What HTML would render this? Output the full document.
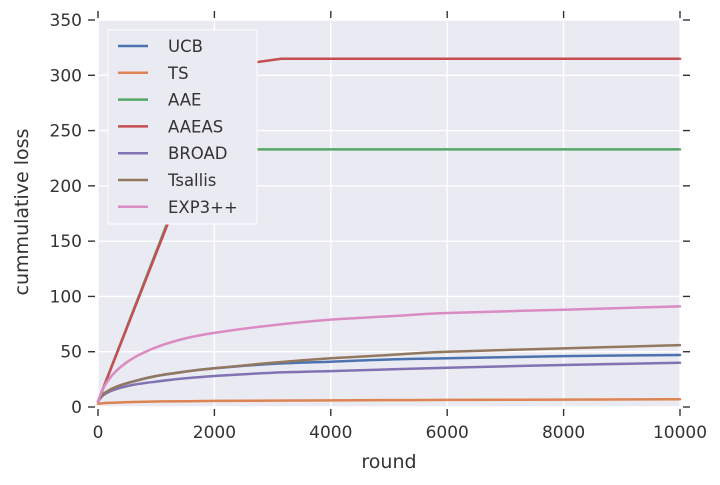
<!DOCTYPE html>
<html><head><meta charset="utf-8"><style>
html,body{margin:0;padding:0;background:#fff;}
svg{display:block;font-family:"DejaVu Sans","Liberation Sans",sans-serif;}
</style></head><body>
<svg id="s" width="720" height="485" xmlns="http://www.w3.org/2000/svg">
<rect x="98" y="20" width="582" height="387" fill="#EAEAF2"/>
<g id="grid" stroke="#fff" stroke-width="1.4"></g>
<g id="ticks" stroke="#333" stroke-width="1.4"></g>
<g id="lines" fill="none" stroke-width="2.5" stroke-linejoin="round" stroke-linecap="round"></g>
<g id="labels" font-size="17" fill="#333"></g>
<text x="389" y="468" font-size="19" fill="#333" text-anchor="middle">round</text>
<text transform="translate(28,212) rotate(-90)" font-size="19" fill="#333" text-anchor="middle">cummulative loss</text>
<rect x="108" y="30" width="149" height="194" fill="#EAEAF2" stroke="#fff" stroke-width="1"/>
<g id="leg" font-size="16.5" fill="#333"></g>
</svg>
<script>
var X=v=>98+v*0.0582, Y=v=>407-v*1.1057;
var ns="http://www.w3.org/2000/svg";
function el(p,t,a,txt){var e=document.createElementNS(ns,t);for(var k in a)e.setAttribute(k,a[k]);if(txt!==undefined)e.textContent=txt;document.getElementById(p).appendChild(e);}
for(var i=0;i<=10000;i+=2000){el('grid','line',{x1:X(i),x2:X(i),y1:20,y2:407});
 el('ticks','line',{x1:X(i),x2:X(i),y1:409,y2:416});el('ticks','line',{x1:X(i),x2:X(i),y1:11,y2:18});
 el('labels','text',{x:X(i),y:438,'text-anchor':'middle'},i);}
for(var v=0;v<=350;v+=50){el('grid','line',{x1:98,x2:680,y1:Y(v),y2:Y(v)});
 el('ticks','line',{x1:88,x2:95,y1:Y(v),y2:Y(v)});el('ticks','line',{x1:683,x2:690,y1:Y(v),y2:Y(v)});
 el('labels','text',{x:82,y:Y(v)+6,'text-anchor':'end'},v);}
var xs=[0,100,300,600,1000,1500,2000,3000,4000,5000,6000,8000,10000];
function smooth(pts){var P=pts.map(p=>[X(p[0]),Y(p[1])]);var d='M'+P[0][0].toFixed(1)+','+P[0][1].toFixed(1);
 for(var i=0;i<P.length-1;i++){var p0=P[Math.max(i-1,0)],p1=P[i],p2=P[i+1],p3=P[Math.min(i+2,P.length-1)];
  var c1=[p1[0]+(p2[0]-p0[0])/6,p1[1]+(p2[1]-p0[1])/6],c2=[p2[0]-(p3[0]-p1[0])/6,p2[1]-(p3[1]-p1[1])/6];
  d+='C'+c1.map(v=>v.toFixed(1))+' '+c2.map(v=>v.toFixed(1))+' '+p2.map(v=>v.toFixed(1));}
 return d;}
var S=[
["UCB","#4C72B0",[5,12,18,23,28,32,35,39,41,43,44,46,47]],
["TS","#DD8452",[3,3.5,4,4.5,5,5.2,5.5,5.8,6,6.2,6.4,6.7,7]],
["AAE","#55A868",null,[[0,5],[1680,233],[10000,233]]],
["AAEAS","#C44E52",null,[[0,5],[2200,300],[2600,311],[3150,315],[10000,315]]],
["BROAD","#8172B3",[5,11,16,20,23,26,28,31,32.5,34,35.5,38,40]],
["Tsallis","#937860",[5,12,18,23,28,32,35,40,44,47,50,53,56]],
["EXP3++","#DA8BC3",[5,18,32,44,54,62,67,74,79,82,85,88,91]]];
S.forEach(function(s,k){
 var d=s[2]?smooth(xs.map((x,j)=>[x,s[2][j]])):'M'+s[3].map(p=>X(p[0]).toFixed(1)+','+Y(p[1]).toFixed(1)).join('L');
 el('lines','path',{d:d,stroke:s[1]});
 var y=46+k*26.8;el('leg','line',{x1:118,x2:148,y1:y,y2:y,stroke:s[1],'stroke-width':2.5});
 el('leg','text',{x:168,y:y+6},s[0]);});
</script>
</body></html>
